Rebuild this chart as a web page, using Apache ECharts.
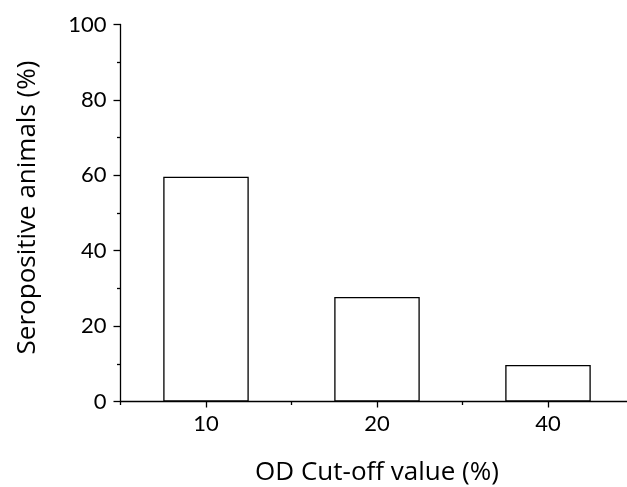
<!DOCTYPE html>
<html>
<head>
<meta charset="utf-8">
<style>html,body{margin:0;padding:0;background:#fff;}#main{width:627px;height:487px;}</style>
<script src="https://cdn.jsdelivr.net/npm/echarts@6/dist/echarts.min.js"></script>
</head>
<body>
<div id="main"></div>
<script>
const categories = ['10', '20', '40'];
const seropositive = [59.6, 27.7, 9.7];
const xTitle = 'OD Cut-off value (%)';
const yTitle = 'Seropositive animals (%)';

const FONT = 'Lato';
const TITLE_FONT = 'Open Sans';
const lineStyle = { color: '#000', width: 1.3 };
const chart = echarts.init(document.getElementById('main'), null, { renderer: 'canvas' });
chart.setOption({
  animation: false,
  backgroundColor: '#fff',
  grid: { left: 120.5, width: 513, top: 24.5, bottom: 85.5, containLabel: false, outerBoundsMode: 'none' },
  xAxis: [
    {
      type: 'category',
      data: categories,
      position: 'bottom',
      boundaryGap: true,
      axisLine: { lineStyle: lineStyle },
      axisTick: { show: true, length: 3.5, lineStyle: lineStyle },
      axisLabel: { color: '#000', fontFamily: FONT, fontSize: 22, margin: 11 },
      splitLine: { show: false },
      name: xTitle,
      nameLocation: 'middle',
      nameGap: 58,
      nameTextStyle: { color: '#000', fontFamily: TITLE_FONT, fontSize: 26 }
    },
    {
      type: 'category',
      data: categories,
      position: 'bottom',
      boundaryGap: true,
      axisLine: { show: false },
      axisTick: { show: true, alignWithLabel: true, length: 6, lineStyle: lineStyle },
      axisLabel: { show: false },
      splitLine: { show: false }
    }
  ],
  yAxis: {
    type: 'value',
    min: 0,
    max: 100,
    interval: 20,
    axisLine: { show: true, lineStyle: lineStyle },
    axisTick: { show: true, length: 7, lineStyle: lineStyle },
    minorTick: { show: true, splitNumber: 2, length: 3.5, lineStyle: lineStyle },
    axisLabel: { color: '#000', fontFamily: FONT, fontSize: 22, margin: 14 },
    splitLine: { show: false },
    name: yTitle,
    nameLocation: 'middle',
    nameGap: 80,
    nameTextStyle: { color: '#000', fontFamily: TITLE_FONT, fontSize: 26, padding: [0, 0, 0, 11] }
  },
  series: [
    {
      type: 'bar',
      data: seropositive,
      xAxisIndex: 0,
      barWidth: '50%',
      itemStyle: { color: '#fff', borderColor: '#000', borderWidth: 1.3 }
    }
  ]
});
</script>
</body>
</html>
